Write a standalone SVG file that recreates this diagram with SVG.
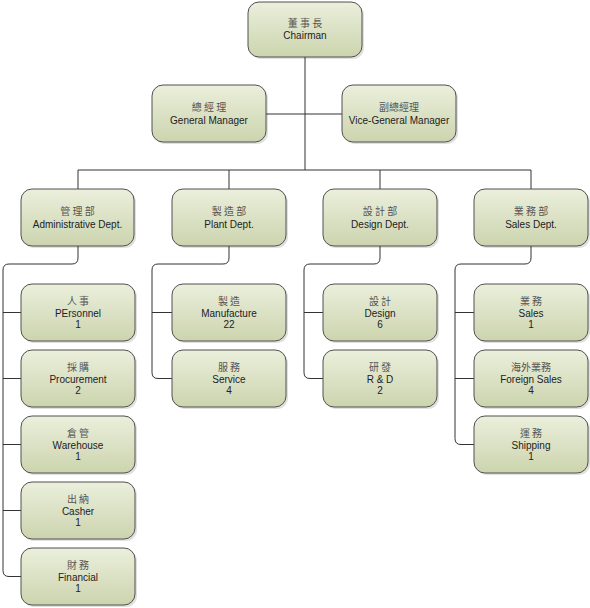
<svg xmlns="http://www.w3.org/2000/svg" width="590" height="608" viewBox="0 0 590 608">
<defs>
<linearGradient id="g" x1="0" y1="0" x2="0" y2="1">
<stop offset="0" stop-color="#ebefdc"/>
<stop offset="1" stop-color="#ccd4ae"/>
</linearGradient>
<style>
.n{fill:url(#g);stroke:#505050;stroke-width:1}
.s{fill:#000;opacity:0.12}
.c{fill:none;stroke:#333;stroke-width:1}
.zh{font-family:"Noto Sans CJK TC","Noto Sans CJK SC",sans-serif;font-size:10px;fill:#555;text-anchor:middle}
.en{font-family:"Liberation Sans",Arial,sans-serif;font-size:10px;fill:#222;text-anchor:middle}
</style>
</defs>
<rect width="590" height="608" fill="#fff"/>
<g id="connectors" class="c">
<path d="M305,57 V170"/>
<path d="M266,114 H342"/>
<path d="M78,170 H531"/>
<path d="M78,170 V189 M229,170 V189 M380,170 V189 M531,170 V189"/>
<path d="M78,246 V258 Q78,264 72,264 H9 Q3,264 3,270 V570.5 Q3,576.5 9,576.5 H21"/>
<path d="M3,312.5 H21 M3,378.5 H21 M3,444.5 H21 M3,510.5 H21"/>
<path d="M229,246 V258 Q229,264 223,264 H158 Q152,264 152,270 V372.5 Q152,378.5 158,378.5 H172"/>
<path d="M152,312.5 H172"/>
<path d="M380,246 V258 Q380,264 374,264 H310 Q304,264 304,270 V372.5 Q304,378.5 310,378.5 H323"/>
<path d="M304,312.5 H323"/>
<path d="M531,246 V258 Q531,264 525,264 H461 Q455,264 455,270 V438.5 Q455,444.5 461,444.5 H474"/>
<path d="M455,312.5 H474 M455,378.5 H474"/>
</g>
<g id="chairman"><rect class="s" x="250" y="4" width="114" height="55" rx="11"/><rect class="n" x="248" y="2" width="114" height="55" rx="11"/><text class="zh" x="305" y="27">董 事 長</text><text class="en" x="305" y="39">Chairman</text></g>
<g id="gm"><rect class="s" x="154" y="87" width="114" height="57" rx="11"/><rect class="n" x="152" y="85" width="114" height="57" rx="11"/><text class="zh" x="209" y="111">總 經 理</text><text class="en" x="209" y="124">General Manager</text></g>
<g id="vgm"><rect class="s" x="344" y="87" width="114" height="57" rx="11"/><rect class="n" x="342" y="85" width="114" height="57" rx="11"/><text class="zh" x="399" y="111">副總經理</text><text class="en" x="399" y="124">Vice-General Manager</text></g>
<g id="admin"><rect class="s" x="23" y="191" width="113" height="57" rx="11"/><rect class="n" x="21" y="189" width="113" height="57" rx="11"/><text class="zh" x="77.5" y="215">管 理 部</text><text class="en" x="77.5" y="228">Administrative Dept.</text></g>
<g id="plant"><rect class="s" x="174" y="191" width="114" height="57" rx="11"/><rect class="n" x="172" y="189" width="114" height="57" rx="11"/><text class="zh" x="229" y="215">製 造 部</text><text class="en" x="229" y="228">Plant Dept.</text></g>
<g id="design"><rect class="s" x="325" y="191" width="114" height="57" rx="11"/><rect class="n" x="323" y="189" width="114" height="57" rx="11"/><text class="zh" x="380" y="215">設 計 部</text><text class="en" x="380" y="228">Design Dept.</text></g>
<g id="sales"><rect class="s" x="476" y="191" width="114" height="57" rx="11"/><rect class="n" x="474" y="189" width="114" height="57" rx="11"/><text class="zh" x="531" y="215">業 務 部</text><text class="en" x="531" y="228">Sales Dept.</text></g>
<g id="personnel"><rect class="s" x="23" y="286" width="114" height="57" rx="11"/><rect class="n" x="21" y="284" width="114" height="57" rx="11"/><text class="zh" x="78" y="305">人 事</text><text class="en" x="78" y="317">PErsonnel</text><text class="en" x="78" y="328">1</text></g>
<g id="procurement"><rect class="s" x="23" y="352" width="114" height="57" rx="11"/><rect class="n" x="21" y="350" width="114" height="57" rx="11"/><text class="zh" x="78" y="371">採 購</text><text class="en" x="78" y="383">Procurement</text><text class="en" x="78" y="394">2</text></g>
<g id="warehouse"><rect class="s" x="23" y="418" width="114" height="57" rx="11"/><rect class="n" x="21" y="416" width="114" height="57" rx="11"/><text class="zh" x="78" y="437">倉 管</text><text class="en" x="78" y="449">Warehouse</text><text class="en" x="78" y="460">1</text></g>
<g id="casher"><rect class="s" x="23" y="484" width="114" height="57" rx="11"/><rect class="n" x="21" y="482" width="114" height="57" rx="11"/><text class="zh" x="78" y="503">出 納</text><text class="en" x="78" y="515">Casher</text><text class="en" x="78" y="526">1</text></g>
<g id="financial"><rect class="s" x="23" y="550" width="114" height="57" rx="11"/><rect class="n" x="21" y="548" width="114" height="57" rx="11"/><text class="zh" x="78" y="569">財 務</text><text class="en" x="78" y="581">Financial</text><text class="en" x="78" y="592">1</text></g>
<g id="manufacture"><rect class="s" x="174" y="286" width="114" height="57" rx="11"/><rect class="n" x="172" y="284" width="114" height="57" rx="11"/><text class="zh" x="229" y="305">製 造</text><text class="en" x="229" y="317">Manufacture</text><text class="en" x="229" y="328">22</text></g>
<g id="service"><rect class="s" x="174" y="352" width="114" height="57" rx="11"/><rect class="n" x="172" y="350" width="114" height="57" rx="11"/><text class="zh" x="229" y="371">服 務</text><text class="en" x="229" y="383">Service</text><text class="en" x="229" y="394">4</text></g>
<g id="design-team"><rect class="s" x="325" y="286" width="114" height="57" rx="11"/><rect class="n" x="323" y="284" width="114" height="57" rx="11"/><text class="zh" x="380" y="305">設 計</text><text class="en" x="380" y="317">Design</text><text class="en" x="380" y="328">6</text></g>
<g id="rd"><rect class="s" x="325" y="352" width="114" height="57" rx="11"/><rect class="n" x="323" y="350" width="114" height="57" rx="11"/><text class="zh" x="380" y="371">研 發</text><text class="en" x="380" y="383">R &amp; D</text><text class="en" x="380" y="394">2</text></g>
<g id="sales-team"><rect class="s" x="476" y="286" width="114" height="57" rx="11"/><rect class="n" x="474" y="284" width="114" height="57" rx="11"/><text class="zh" x="531" y="305">業 務</text><text class="en" x="531" y="317">Sales</text><text class="en" x="531" y="328">1</text></g>
<g id="foreign-sales"><rect class="s" x="476" y="352" width="114" height="57" rx="11"/><rect class="n" x="474" y="350" width="114" height="57" rx="11"/><text class="zh" x="531" y="371">海外業務</text><text class="en" x="531" y="383">Foreign Sales</text><text class="en" x="531" y="394">4</text></g>
<g id="shipping"><rect class="s" x="476" y="418" width="114" height="57" rx="11"/><rect class="n" x="474" y="416" width="114" height="57" rx="11"/><text class="zh" x="531" y="437">運 務</text><text class="en" x="531" y="449">Shipping</text><text class="en" x="531" y="460">1</text></g>
</svg>
